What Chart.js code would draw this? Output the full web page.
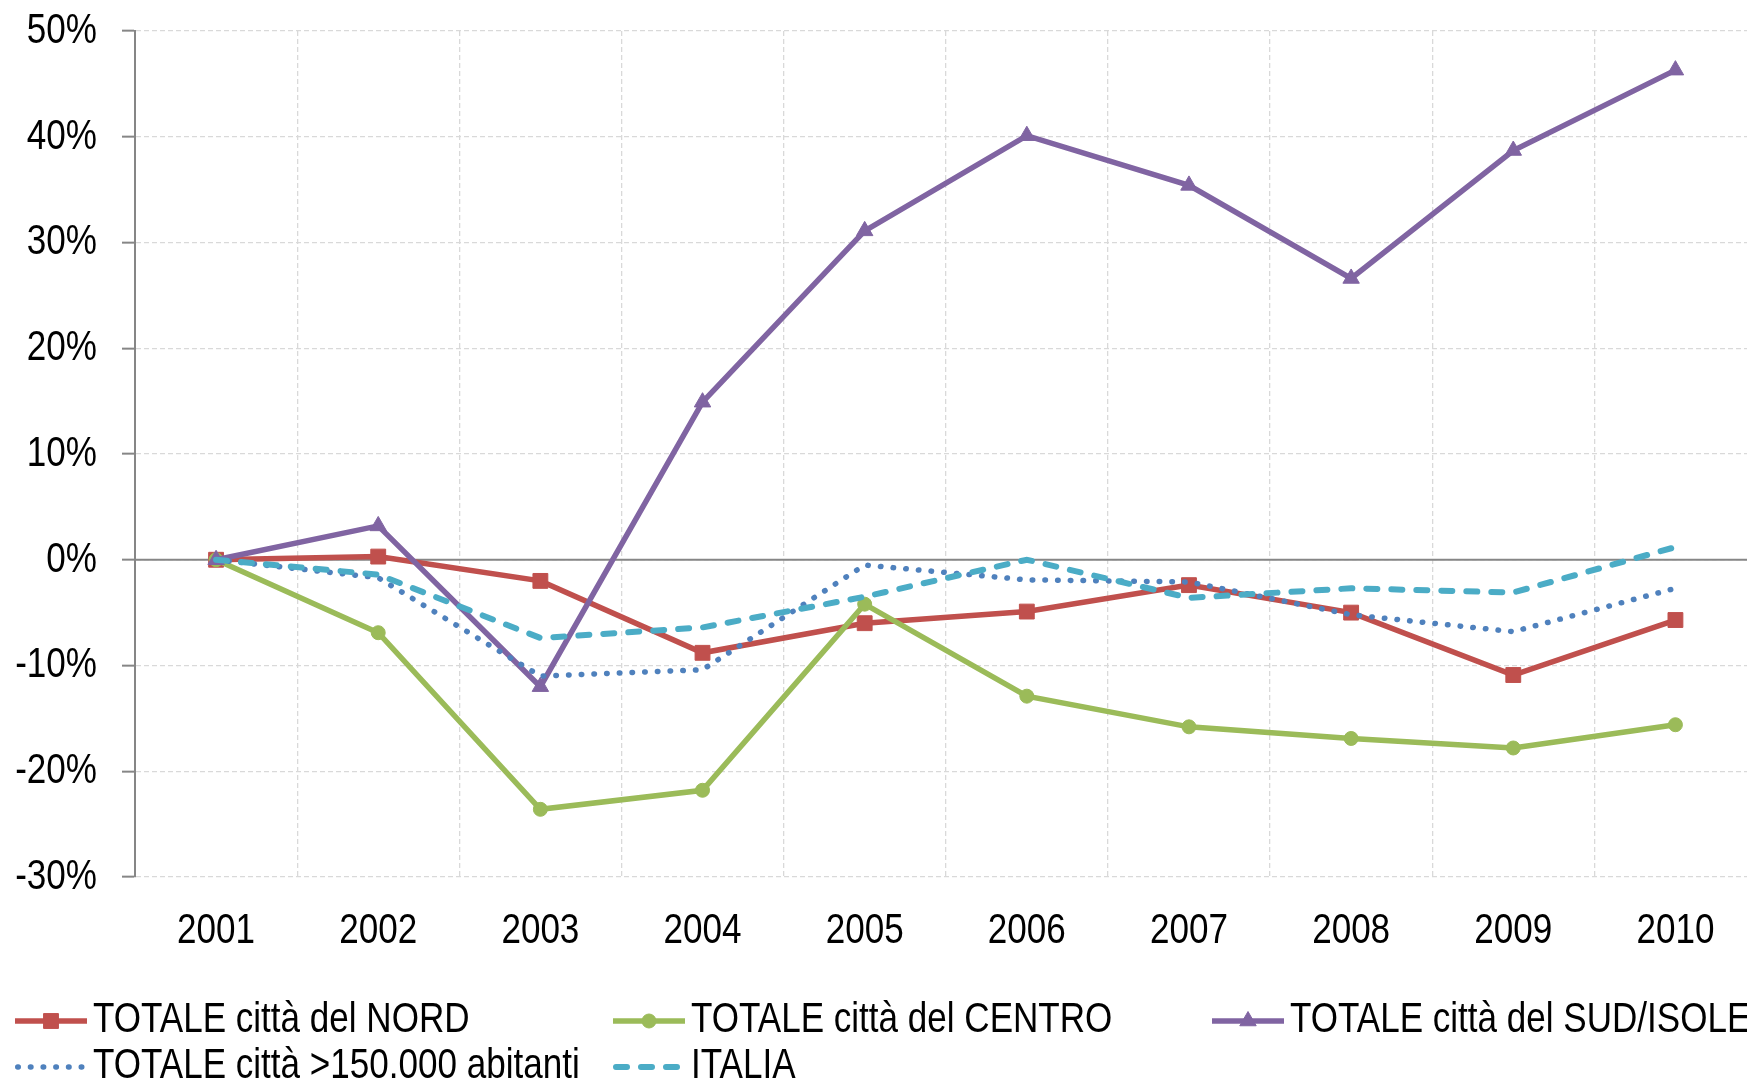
<!DOCTYPE html>
<html><head><meta charset="utf-8">
<script src="https://cdn.jsdelivr.net/npm/chart.js@4/dist/chart.umd.min.js"></script>
<style>
html,body{margin:0;padding:0;background:#fff;overflow:hidden;}
#wrap{width:1747px;height:1083px;overflow:hidden;position:relative;background:#fff;}
canvas{display:block;}
</style></head><body>
<div id="wrap"><canvas id="c" width="1768" height="1083"></canvas></div>
<script>
const categories = ['2001','2002','2003','2004','2005','2006','2007','2008','2009','2010'];
const nord   = [0, 0.3, -2.0, -8.8, -6.0, -4.9, -2.4, -5.0, -10.9, -5.7];
const centro = [0, -6.9, -23.6, -21.8, -4.2, -12.9, -15.8, -16.9, -17.8, -15.6];
const sud    = [0, 3.2, -12.0, 14.9, 31.1, 40.1, 35.4, 26.6, 38.7, 46.3];
const grandi = [0, -1.7, -11.0, -10.4, -0.5, -1.9, -2.1, -5.2, -6.8, -2.7];
const italia = [0, -1.4, -7.4, -6.4, -3.5, 0.0, -3.6, -2.7, -3.1, 1.2];
const seriesLabels = ['TOTALE città del NORD','TOTALE città del CENTRO','TOTALE città del SUD/ISOLE','TOTALE città >150.000 abitanti','ITALIA'];
const yMin = -30, yMax = 50, yStep = 10;

const FONT = "'Liberation Sans',Arial,sans-serif";
const FS = 43;
const SX = 0.815; // horizontal condensing (Arial Narrow look)

function narrowText(ctx, text, x, y, align){
  ctx.save();
  ctx.translate(x, y); ctx.scale(SX, 1);
  ctx.font = FS + 'px ' + FONT; ctx.fillStyle = '#000';
  ctx.textAlign = align; ctx.textBaseline = 'middle';
  ctx.fillText(text, 0, 0);
  ctx.restore();
}

const zeroLine = {
  id:'zeroLine',
  beforeDatasetsDraw(chart){
    const ctx = chart.ctx, a = chart.chartArea;
    const y = chart.scales.y.getPixelForValue(0);
    ctx.save();
    ctx.strokeStyle = '#868686'; ctx.lineWidth = 2; ctx.setLineDash([]);
    ctx.beginPath(); ctx.moveTo(a.left, y); ctx.lineTo(a.right, y); ctx.stroke();
    ctx.restore();
  }
};

const axisLabels = {
  id:'axisLabels',
  afterDraw(chart){
    const ctx = chart.ctx, a = chart.chartArea;
    const ys = chart.scales.y, xs = chart.scales.x;
    ys.ticks.forEach((t, i) => {
      narrowText(ctx, t.value + '%', a.left - 38, ys.getPixelForTick(i), 'right');
    });
    xs.ticks.forEach((t, i) => {
      narrowText(ctx, xs.getLabelForValue(t.value), xs.getPixelForTick(i), a.bottom + 54, 'center');
    });
  }
};

const gridLegend = {
  id:'gridLegend',
  afterDraw(chart){
    const ctx = chart.ctx;
    const cols = [15, 613, 1212], rows = [1021, 1067];
    chart.data.datasets.forEach((ds, i) => {
      const x0 = cols[i % 3], y = rows[Math.floor(i / 3)];
      ctx.save();
      ctx.strokeStyle = ds.borderColor; ctx.lineWidth = ds.borderWidth;
      ctx.setLineDash(ds.borderDash || []); ctx.lineCap = ds.borderCapStyle || 'butt';
      const inset = (ds.borderCapStyle === 'round') ? ds.borderWidth / 2 : 0;
      ctx.beginPath(); ctx.moveTo(x0 + inset, y); ctx.lineTo(x0 + 72 - inset, y); ctx.stroke();
      ctx.setLineDash([]); ctx.lineCap = 'butt';
      if (ds.pointRadius > 0) {
        ctx.fillStyle = ds.pointBackgroundColor; ctx.strokeStyle = ds.pointBorderColor; ctx.lineWidth = 1;
        Chart.helpers.drawPoint(ctx, {pointStyle: ds.pointStyle, radius: ds.pointRadius, rotation: 0, borderWidth: 1}, x0 + 36, y);
      }
      ctx.restore();
      narrowText(ctx, ds.label, x0 + 78, y - 1, 'left');
    });
  }
};

new Chart(document.getElementById('c'), {
  type: 'line',
  data: {
    labels: categories,
    datasets: [
      {label: seriesLabels[0], data: nord, borderColor:'#C0504D', backgroundColor:'#C0504D', borderWidth:5.5,
       pointStyle:'rect', pointRadius:10.5, pointBackgroundColor:'#C0504D', pointBorderColor:'#C0504D', pointBorderWidth:1, order:5},
      {label: seriesLabels[1], data: centro, borderColor:'#9BBB59', backgroundColor:'#9BBB59', borderWidth:5.5,
       pointStyle:'circle', pointRadius:7, pointBackgroundColor:'#9BBB59', pointBorderColor:'#9BBB59', pointBorderWidth:1, order:4},
      {label: seriesLabels[2], data: sud, borderColor:'#8064A2', backgroundColor:'#8064A2', borderWidth:5.5,
       pointStyle:'triangle', pointRadius:9.5, pointBackgroundColor:'#8064A2', pointBorderColor:'#8064A2', pointBorderWidth:1, order:3},
      {label: seriesLabels[3], data: grandi, borderColor:'#4F81BD', backgroundColor:'#4F81BD', borderWidth:5.5,
       borderDash:[0.5, 12.2], borderCapStyle:'round', pointRadius:0, order:2},
      {label: seriesLabels[4], data: italia, borderColor:'#4BACC6', backgroundColor:'#4BACC6', borderWidth:6,
       borderDash:[11, 14], borderCapStyle:'round', pointRadius:0, order:1}
    ]
  },
  options: {
    responsive:false, animation:false, devicePixelRatio:1,
    layout:{ padding:{ left:0, top:31, right:6, bottom:0 } },
    elements:{ line:{ tension:0 } },
    plugins:{ legend:{display:false}, tooltip:{enabled:false} },
    scales:{
      x:{
        type:'category', offset:true,
        grid:{ offset:true, drawTicks:false, lineWidth:1.3,
               color: c => c.index === 0 ? 'rgba(0,0,0,0)' : '#d9d9d9' },
        border:{ display:false, dash:[5,3] },
        ticks:{ display:false, autoSkip:false },
        afterFit(s){ s.height = 206; }
      },
      y:{
        min:yMin, max:yMax,
        ticks:{ display:false, stepSize:yStep },
        grid:{ color:'#d9d9d9', lineWidth:1.3, drawTicks:true, tickLength:13, tickColor:'#868686', tickWidth:2, tickBorderDash:[] },
        border:{ display:true, color:'#868686', width:2, dash:[5,3] },
        afterFit(s){ s.width = 135; }
      }
    }
  },
  plugins:[zeroLine, axisLabels, gridLegend]
});
</script>
</body></html>
